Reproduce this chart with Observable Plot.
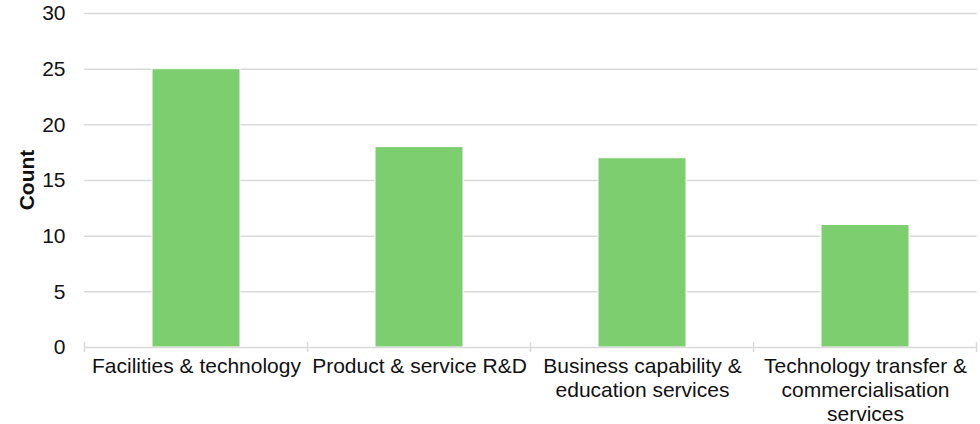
<!DOCTYPE html>
<html>
<head>
<meta charset="utf-8">
<script src="https://cdn.jsdelivr.net/npm/d3@7"></script>
<script src="https://cdn.jsdelivr.net/npm/@observablehq/plot@0.6"></script>
<style>
  html, body { margin: 0; padding: 0; background: #fff; }
  #chart svg { display: block; }
</style>
</head>
<body>
<div id="chart"></div>
<script>
const categories = [
  "Facilities & technology",
  "Product & service R&D",
  "Business capability & education services",
  "Technology transfer & commercialisation services"
];
const tickLabels = [
  "Facilities & technology",
  "Product & service R&D",
  "Business capability &\neducation services",
  "Technology transfer &\ncommercialisation\nservices"
];
const counts = [25, 18, 17, 11];
const yTicks = [0, 5, 10, 15, 20, 25, 30];

const data = categories.map((c, i) => ({category: c, count: counts[i]}));
const labelOf = new Map(categories.map((c, i) => [c, tickLabels[i]]));

const gridColor = "#d9d9d9";
const font = "'Liberation Sans', Arial, sans-serif";

const plot = Plot.plot({
  width: 980,
  height: 424,
  marginTop: 13,
  marginBottom: 77,
  marginLeft: 84,
  marginRight: 3,
  style: {fontFamily: font, fontSize: "21px", color: "#111", background: "#fff"},
  x: {domain: categories, paddingInner: 0.605, paddingOuter: 0.3025, align: 0.5},
  y: {domain: [0, 30], ticks: yTicks},
  marks: [
    Plot.gridY(yTicks.filter(d => d > 0), {stroke: gridColor, strokeOpacity: 1, strokeWidth: 1.5}),
    Plot.barY(data, {x: "category", y: "count", fill: "#7dce6f", stroke: "#fff", strokeWidth: 1}),
    Plot.ruleY([0], {stroke: gridColor, strokeWidth: 1.5}),
    Plot.axisY(yTicks, {tickSize: 0, tickPadding: 19, fontSize: 21, label: null}),
    Plot.axisX({tickSize: 0, tickPadding: 8, fontSize: 21, lineHeight: 1.15, label: null,
      tickFormat: d => labelOf.get(d), textOverflow: null})
  ]
});

// Category boundary tick marks on the x axis, placed via the library's x scale
const xs = plot.scale("x");
const ys = plot.scale("y");
const step = xs.step;
const band = xs.bandwidth;
const svg = d3.select(plot);
const boundaries = [];
categories.forEach((c, i) => {
  const left = xs.apply(c) - (step - band) / 2;
  boundaries.push(left);
  if (i === categories.length - 1) boundaries.push(left + step);
});
const y0 = ys.apply(0);
svg.append("g")
  .attr("stroke", gridColor)
  .attr("stroke-width", 1.5)
  .selectAll("line")
  .data(boundaries)
  .join("line")
  .attr("x1", d => d).attr("x2", d => d)
  .attr("y1", y0 - 5).attr("y2", y0 + 5);

// Y axis title
svg.append("text")
  .attr("transform", `translate(28,${(ys.apply(0) + ys.apply(30)) / 2}) rotate(-90)`)
  .attr("text-anchor", "middle")
  .attr("dominant-baseline", "middle")
  .attr("font-family", font)
  .attr("font-size", 21)
  .attr("font-weight", "bold")
  .attr("fill", "#111")
  .text("Count");

document.getElementById("chart").appendChild(plot);
</script>
</body>
</html>
